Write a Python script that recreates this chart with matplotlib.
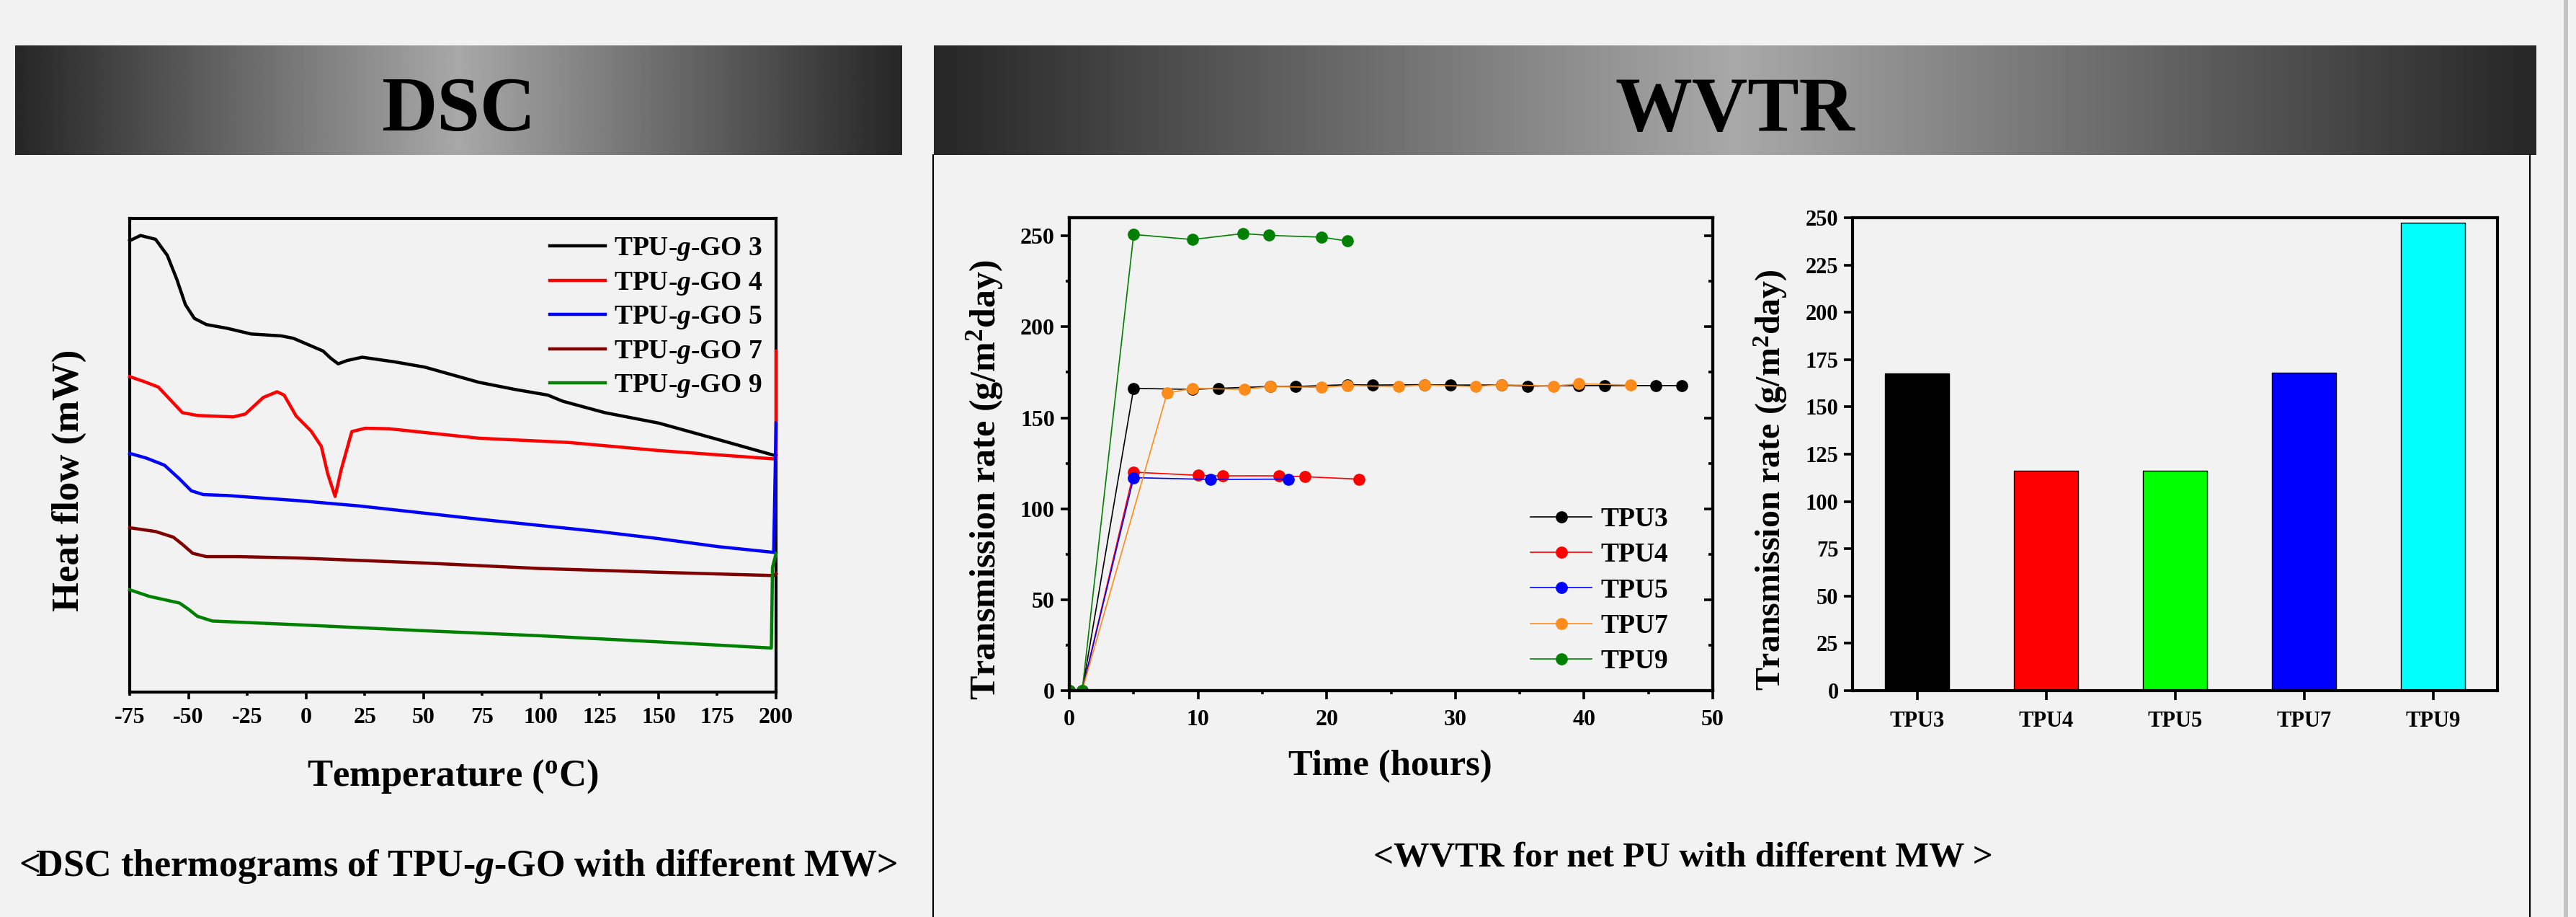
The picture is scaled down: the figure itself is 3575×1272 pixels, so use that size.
import numpy as np
import matplotlib
matplotlib.use('Agg')
import matplotlib.pyplot as plt
from matplotlib.ticker import MultipleLocator, FormatStrFormatter, NullLocator
from matplotlib.lines import Line2D
from matplotlib.patches import Rectangle

plt.rcParams['font.family'] = ['Liberation Serif', 'DejaVu Serif']
plt.rcParams['font.weight'] = 'bold'
plt.rcParams['mathtext.fontset'] = 'custom'
plt.rcParams['mathtext.rm'] = 'Liberation Serif:bold'
plt.rcParams['mathtext.it'] = 'Liberation Serif:italic:bold'
plt.rcParams['mathtext.bf'] = 'Liberation Serif:bold'
plt.rcParams['mathtext.default'] = 'rm'
plt.rcParams['axes.unicode_minus'] = False

# ---------------- DSC data (arbitrary heat-flow units) ----------------
dsc_labels = ['TPU-$\\mathit{g}$-GO 3', 'TPU-$\\mathit{g}$-GO 4', 'TPU-$\\mathit{g}$-GO 5',
              'TPU-$\\mathit{g}$-GO 7', 'TPU-$\\mathit{g}$-GO 9']
dsc_colors = ['#000000', '#ff0000', '#0000ff', '#800000', '#008000']

t3 = [-75, -70.4, -64, -59, -55, -51.3, -47.5, -42.4, -33.5, -23.3, -10.5, -5.4, 7.3, 10.5,
      13.7, 17.5, 23.9, 37.9, 50.6, 73.6, 88.9, 102.9, 109.3, 127.1, 150, 175.5, 198.4, 200]
h3 = [95.3, 96.4, 95.6, 92.2, 87.2, 81.8, 78.9, 77.6, 76.8, 75.6, 75.2, 74.7, 72.0, 70.5,
      69.3, 70.0, 70.7, 69.7, 68.6, 65.4, 63.9, 62.7, 61.4, 59.0, 56.8, 53.3, 50.1, 49.9]

t4 = [-75, -69.1, -62.8, -57.7, -52.6, -46.2, -30.9, -25.8, -18.2, -12.3, -9.3, -4.2, 2.2,
      6.5, 9.3, 12.4, 15.0, 19.5, 25.2, 35.3, 73.6, 111.8, 150, 200, 200]
h4 = [66.6, 65.6, 64.4, 61.7, 59.0, 58.4, 58.1, 58.7, 62.2, 63.4, 62.7, 58.3, 55.1,
      51.9, 46.0, 41.3, 47.0, 55.0, 55.7, 55.6, 53.6, 52.7, 51.0, 49.2, 72.0]

t5 = [-75, -67.9, -60.2, -53.8, -48.8, -43.7, -33.5, -2.9, 22.6, 48.1, 73.6, 124.5, 150,
      175.5, 199, 200]
h5 = [50.4, 49.4, 47.9, 45.0, 42.5, 41.7, 41.5, 40.4, 39.3, 37.9, 36.5, 33.9, 32.4,
      30.7, 29.5, 56.8]

t7 = [-75, -64, -56.4, -52.6, -48.2, -42.4, -28.4, -2.9, 48.1, 99.1, 150, 199, 200]
h7 = [34.7, 33.9, 32.7, 31.2, 29.3, 28.6, 28.6, 28.3, 27.3, 26.1, 25.3, 24.6, 25.0]

t9 = [-75, -66.6, -53.8, -50, -46.2, -39.8, -2.9, 48.1, 99.1, 150, 198, 198.5, 200]
h9 = [21.6, 20.2, 18.8, 17.5, 16.0, 15.0, 14.2, 13.0, 11.9, 10.6, 9.3, 26.3, 29.3]

dsc_x = [t3, t4, t5, t7, t9]
dsc_y = [h3, h4, h5, h7, h9]

# ---------------- WVTR time series ----------------
wv_labels = ['TPU3', 'TPU4', 'TPU5', 'TPU7', 'TPU9']
wv_colors = ['#000000', '#ff0000', '#0000ff', '#ff8c1a', '#008000']

time3 = [0, 1, 5, 9.6, 11.6, 15.6, 17.6, 21.6, 23.6, 27.6, 29.6, 33.6, 35.6, 39.6, 41.6, 45.6, 47.6]
rate3 = [0, 0, 166.2, 165.6, 166.2, 167.2, 167.2, 168.2, 168.0, 168.2, 168.0, 168.0, 167.4,
         167.7, 167.7, 167.7, 167.7]
time4 = [0, 1, 5, 10.0, 11.9, 16.3, 18.3, 22.5]
rate4 = [0, 0, 120.1, 118.4, 118.1, 118.1, 117.6, 116.3]
time5 = [0, 1, 5, 11.0, 17.0]
rate5 = [0, 0, 117.1, 116.1, 116.3]
time7 = [0, 1, 7.6, 9.6, 13.6, 15.6, 19.6, 21.6, 25.6, 27.6, 31.6, 33.6, 37.6, 39.6, 43.6]
rate7 = [0, 0, 163.6, 166.2, 165.6, 167.2, 166.7, 167.7, 167.2, 168.0, 167.2, 168.2, 167.4,
         168.7, 168.0]
time9 = [0, 1, 5, 9.55, 13.5, 15.5, 19.6, 21.6]
rate9 = [0, 0, 250.8, 248.0, 251.3, 250.3, 249.3, 247.2]

wv_x = [time3, time4, time5, time7, time9]
wv_y = [rate3, rate4, rate5, rate7, rate9]

# ---------------- WVTR bars ----------------
bar_cats = ['TPU3', 'TPU4', 'TPU5', 'TPU7', 'TPU9']
bar_vals = [167.6, 116.3, 116.3, 167.9, 247.3]
bar_colors = ['#000000', '#ff0000', '#00ff00', '#0000ff', '#00ffff']

# ---------------- Figure ----------------
W, H = 3575, 1272
fig = plt.figure(figsize=(W / 100, H / 100), dpi=100, facecolor='#f2f2f2')


def rect(l, t, r, b):
    return [l / W, 1 - b / H, (r - l) / W, (b - t) / H]


def fx(x):
    return x / W


def fy(y):
    return 1 - y / H


def banner(l, t, r, b, text, fs):
    ax = fig.add_axes(rect(l, t, r, b))
    x = np.linspace(-1, 1, 600)
    g = 0.15 + (0.66 - 0.15) * (1 - np.abs(x))
    ax.imshow(np.tile(g, (2, 1)), cmap='gray', vmin=0, vmax=1, aspect='auto',
              extent=[0, 1, 0, 1], interpolation='bilinear')
    ax.set_axis_off()
    fig.text(fx((l + r) / 2), fy(181), text, ha='center', va='baseline',
             fontsize=fs, fontweight='bold', color='black')


banner(21, 63, 1252, 215, 'DSC', 77)
banner(1296, 63, 3520, 215, 'WVTR', 77)

# WVTR panel frame lines and right edge strip
fig.add_artist(Line2D([fx(1295), fx(1295)], [fy(215), 0], transform=fig.transFigure,
                      color='black', lw=1.5))
fig.add_artist(Line2D([fx(3511), fx(3511)], [fy(215), 0], transform=fig.transFigure,
                      color='black', lw=1.5))
fig.add_artist(Rectangle((fx(3558), 0), 6 / W, 1, transform=fig.transFigure,
                         color='#c4c4c4', lw=0))

# ---------------- DSC axes ----------------
ax1 = fig.add_axes(rect(180, 303, 1077, 960))
ax1.set_facecolor('none')
for xs, ys, c, lab in zip(dsc_x, dsc_y, dsc_colors, dsc_labels):
    ax1.plot(xs, ys, color=c, lw=3.2, label=lab, clip_on=False, zorder=3)
ax1.set_xlim(-75, 200)
ax1.set_ylim(0, 100)
ax1.xaxis.set_major_locator(MultipleLocator(50))
ax1.xaxis.set_minor_locator(MultipleLocator(25))
ax1.xaxis.set_major_formatter(FormatStrFormatter('%d'))
ax1.xaxis.set_minor_formatter(FormatStrFormatter('%d'))
ax1.tick_params(axis='x', which='major', direction='out', length=7, width=2.6, labelsize=23, pad=8)
ax1.tick_params(axis='x', which='minor', direction='out', length=3.5, width=2.6, labelsize=23,
                pad=11.5)
ax1.yaxis.set_major_locator(NullLocator())
for s in ax1.spines.values():
    s.set_linewidth(3)
ax1.legend(loc='upper left', bbox_to_anchor=(0.65, 0.963), frameon=False, fontsize=27,
           handlelength=2.05, handletextpad=0.32, labelspacing=0.28, borderpad=0,
           borderaxespad=0)
fig.text(fx(628), fy(1077), 'Temperature ($^{\\mathrm{o}}$C)', ha='center', va='center',
         fontsize=38, fontweight='bold')
fig.text(fx(96), fy(666), 'Heat flow (mW)', ha='center', va='center', rotation=90,
         fontsize=38, fontweight='bold')
fig.text(fx(636), fy(1202), '<DSC thermograms of TPU-$\\mathit{g}$-GO with different MW>',
         ha='center', va='center', fontsize=37.5, fontweight='bold')

# ---------------- WVTR line axes ----------------
ax2 = fig.add_axes(rect(1484, 302, 2377, 958))
ax2.set_facecolor('none')
for xs, ys, c, lab in zip(wv_x, wv_y, wv_colors, wv_labels):
    ax2.plot(xs, ys, '-o', color=c, lw=1.2, ms=11, label=lab)
ax2.set_xlim(0, 50)
ax2.set_ylim(0, 260)
ax2.xaxis.set_major_locator(MultipleLocator(10))
ax2.xaxis.set_minor_locator(MultipleLocator(5))
ax2.yaxis.set_major_locator(MultipleLocator(50))
ax2.yaxis.set_minor_locator(MultipleLocator(25))
ax2.tick_params(which='major', direction='out', length=8.5, width=2.6, labelsize=23)
ax2.tick_params(which='minor', direction='out', length=3.6, width=2.6)
ax2.tick_params(axis='x', which='major', pad=10)
ax2.tick_params(axis='y', which='major', pad=6)
for s in ax2.spines.values():
    s.set_linewidth(3)
ax2r = ax2.twinx()
ax2r.set_ylim(0, 260)
ax2r.yaxis.set_major_locator(MultipleLocator(50))
ax2r.yaxis.set_minor_locator(MultipleLocator(25))
ax2r.tick_params(which='major', direction='in', length=8.5, width=2.6, labelright=False)
ax2r.tick_params(which='minor', direction='in', length=4.3, width=2.6)
for s in ax2r.spines.values():
    s.set_linewidth(3)
ax2.legend(loc='lower left', bbox_to_anchor=(0.717, 0.035), frameon=False, fontsize=27,
           handlelength=2.27, handletextpad=0.32, labelspacing=0.38, borderpad=0,
           borderaxespad=0, numpoints=1)
fig.text(fx(1929), fy(1063), 'Time (hours)', ha='center', va='center', fontsize=36.5,
         fontweight='bold')
fig.text(fx(1367), fy(666), 'Transmission rate (g/m$^{2}$day)', ha='center', va='center',
         rotation=90, fontsize=36, fontweight='bold')

# ---------------- WVTR bar axes ----------------
ax3 = fig.add_axes(rect(2571, 302, 3466, 958))
ax3.set_facecolor('none')
pos = np.arange(len(bar_cats))
ax3.bar(pos, bar_vals, width=0.5, color=bar_colors, edgecolor='black', lw=1)
ax3.set_xlim(-0.5, 4.5)
ax3.set_ylim(0, 250)
ax3.set_xticks(pos)
ax3.set_xticklabels(bar_cats)
ax3.yaxis.set_major_locator(MultipleLocator(25))
ax3.tick_params(axis='y', direction='out', length=9, width=2.6, labelsize=22, pad=5)
ax3.tick_params(axis='x', direction='out', length=9, width=2.6, labelsize=22, pad=11)
for s in ax3.spines.values():
    s.set_linewidth(3)
fig.text(fx(2457), fy(666), 'Transmission rate (g/m$^{2}$day)', ha='center', va='center',
         rotation=90, fontsize=34.5, fontweight='bold')

fig.text(fx(2336), fy(1189), '<WVTR for net PU with different MW >', ha='center',
         va='center', fontsize=35.5, fontweight='bold')

fig.savefig('out.png', dpi=100, facecolor=fig.get_facecolor())
